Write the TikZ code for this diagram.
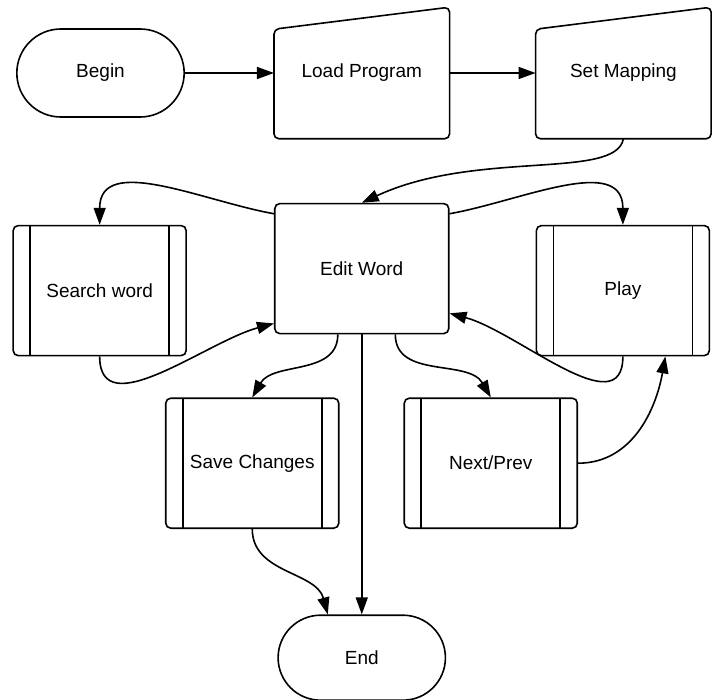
\documentclass[tikz,border=0pt]{standalone}
\usepackage{fontspec}
\setmainfont{Liberation Sans}
\usetikzlibrary{positioning,shapes.misc,arrows.meta}

\begin{document}
\begin{tikzpicture}[
    x=1pt,y=1pt,
    line width=1.6pt,
    font=\fontsize{19}{23}\selectfont,
    term/.style={draw,rounded rectangle,minimum width=174pt,minimum height=88pt},
    manual/.style={minimum width=174pt,minimum height=130pt},
    box/.style={draw,rounded corners=5pt,minimum width=174pt,minimum height=130pt},
    proc/.style={draw,rounded corners=5pt,minimum width=173pt,minimum height=130pt,
        path picture={
            \draw[line width=1.6pt] ([xshift=17pt]path picture bounding box.north west)
                -- ([xshift=17pt]path picture bounding box.south west);
            \draw[line width=1.6pt] ([xshift=-17pt]path picture bounding box.north east)
                -- ([xshift=-17pt]path picture bounding box.south east);}},
    arr/.style={-{Triangle[length=17pt,width=12pt]},line width=1.6pt}
]
\useasboundingbox (0,0) rectangle (712,-700);

\node[term] (begin) at (100.5,-73) {Begin};
\node[manual,right=89pt of begin] (load) {Load Program};
\node[manual,right=86pt of load]  (set)  {Set Mapping};
\node[box,below=64pt of load]     (edit) {Edit Word};
\node[proc,left=87pt of edit,yshift=-22pt]  (search) {Search word};
\node[proc,right=86pt of edit,yshift=-22pt] (play)   {Play};
\node[proc,below=63pt of edit,xshift=-109.5pt] (save) {Save Changes};
\node[proc,below=63pt of edit,xshift=129pt]    (next) {Next/Prev};
\node[term,below=280pt of edit,minimum height=85pt] (end) {End};

% manual input outlines
\draw[rounded corners=5pt] (load.south west) -- ([yshift=-22pt]load.north west)
    -- (load.north east) -- (load.south east) -- cycle;
\draw[rounded corners=5pt] (set.south west) -- ([yshift=-22pt]set.north west)
    -- (set.north east) -- (set.south east) -- cycle;

\draw[arr] (begin) -- (load);
\draw[arr] (load) -- (set);
\draw[arr] (set.south) to[out=-100,in=25,out looseness=0.4,in looseness=1.2] (edit.north);
\draw[arr] (edit.148) to[out=170,in=90,looseness=1.05] (search.north);
\draw[arr] (edit.32) to[out=10,in=90,looseness=1.05] (play.north);
\draw[arr] (search.south) to[out=-90,in=195] (edit.212);
\draw[arr] (play.south) to[out=-90,in=-15] (edit.333);
\draw[arr] (edit.250) to[out=-90,in=60] (save.north);
\draw[arr] (edit.south) -- (end.north);
\draw[arr] (edit.297) to[out=-90,in=120] (next.north);
\draw[arr] (save.south) to[out=-90,in=105] ([xshift=-34pt]end.north);
\draw[arr] (next.east) to[out=0,in=-100] ([xshift=42.5pt]play.south);
\end{tikzpicture}
\end{document}
